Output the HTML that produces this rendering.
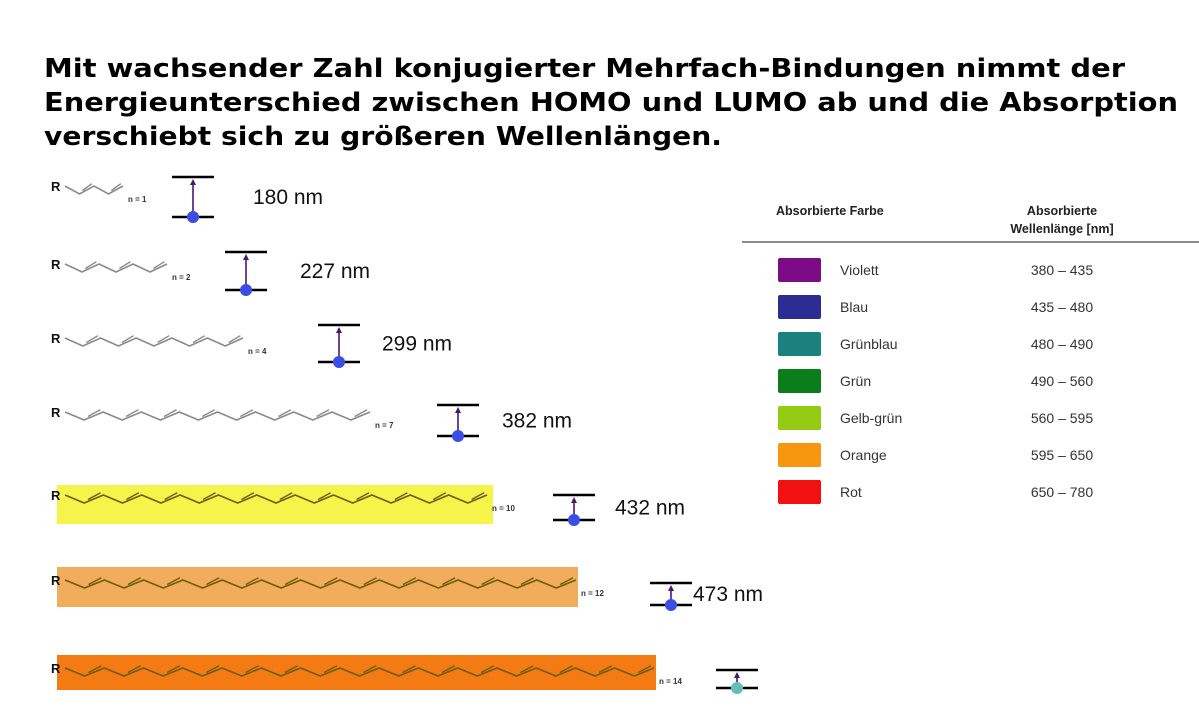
<!DOCTYPE html>
<html><head><meta charset="utf-8"><style>
html,body{margin:0;padding:0;background:#fff;}
svg{display:block;}
</style></head><body>
<svg id="fig" width="1199" height="707" viewBox="0 0 1199 707" xmlns="http://www.w3.org/2000/svg">
<g font-family="DejaVu Sans, Liberation Sans, sans-serif" font-weight="bold" font-size="26" fill="#000">
<text x="44" y="77" textLength="1081" lengthAdjust="spacingAndGlyphs">Mit wachsender Zahl konjugierter Mehrfach-Bindungen nimmt der</text>
<text x="44" y="111" textLength="1134" lengthAdjust="spacingAndGlyphs">Energieunterschied zwischen HOMO und LUMO ab und die Absorption</text>
<text x="44" y="145" textLength="678" lengthAdjust="spacingAndGlyphs">verschiebt sich zu größeren Wellenlängen.</text>
</g>
<g id="rows"></g>
<g id="table" font-family="Liberation Sans, sans-serif"></g>
</svg>
<script>
const nValues=[1,2,4,7,10,12,14];
const wavelengths=["180 nm","227 nm","299 nm","382 nm","432 nm","473 nm",""];
const highlightColors=["","","","","#f6f34a","#f2ad5c","#f47a14"];
const colorNames=["Violett","Blau","Grünblau","Grün","Gelb-grün","Orange","Rot"];
const colorRanges=["380 – 435","435 – 480","480 – 490","490 – 560","560 – 595","595 – 650","650 – 780"];
const swatchColors=["#7d0b86","#2c2c92","#1a8080","#0b7d1a","#94cc14","#f7960f","#f21010"];

const NS="http://www.w3.org/2000/svg";
function mk(tag,attrs,parent){const e=document.createElementNS(NS,tag);for(const k in attrs)e.setAttribute(k,attrs[k]);parent.appendChild(e);return e;}
const rowsG=document.getElementById('rows');
const rowY=[186,264,338,412,495,580,668];
const chainEnd=[123,167,243,370,487,576,654];
const iconX=[172,225,318,437,553,650,716];
const iconTop=[177,252,325,405,495,583,670];
const iconBot=[217,290,362,436,520,605,688];
const labelX=[253,300,382,502,615,693,0];
const bars=[null,null,null,null,[57,485,436,39],[57,567,521,40],[57,655,599,35]];
nValues.forEach((n,i)=>{
  const g=mk('g',{},rowsG);
  
  
  const y=rowY[i];
  if(highlightColors[i]){
    const b=bars[i];
    const r=mk('rect',{x:b[0],y:b[1],width:b[2],height:b[3],fill:highlightColors[i]},g);
    
    
  }
  const col=highlightColors[i]?'#6e5c10':'#8a8a8a';
  const R=mk('text',{x:51,y:y+5,'font-family':'Liberation Sans, sans-serif','font-weight':'bold','font-size':13,fill:'#111'},g);R.textContent='R';
  const segs=2*n+2, x0=65, dx=(chainEnd[i]-x0)/segs, amp=8;
  let pts=[];for(let s=0;s<=segs;s++){pts.push([x0+s*dx,y+(s%2?amp:0)]);}
  const chain=mk('polyline',{points:pts.map(p=>p.join(',')).join(' '),fill:'none',stroke:col,'stroke-width':1.6},g);
  
  
  for(let s=1;s<segs;s+=2){const a=pts[s],b=pts[s+1];
    mk('line',{x1:a[0]+dx*0.2,y1:a[1]-3.5,x2:b[0]-dx*0.15,y2:b[1]-3.5+amp*0.15,stroke:col,'stroke-width':1.4},g);}
  const nl=mk('text',{x:chainEnd[i]+5,y:y+16,'font-family':'Liberation Sans, sans-serif','font-weight':'bold','font-size':8,fill:'#333'},g);nl.textContent='n = '+n;
  const ix=iconX[i],t=iconTop[i],bt=iconBot[i],cx=ix+21;
  mk('line',{x1:ix,y1:t,x2:ix+42,y2:t,stroke:'#000','stroke-width':2.5},g);
  mk('line',{x1:ix,y1:bt,x2:ix+42,y2:bt,stroke:'#000','stroke-width':2.5},g);
  mk('line',{x1:cx,y1:bt,x2:cx,y2:t+6,stroke:'#4a1670','stroke-width':1.6},g);
  mk('path',{d:`M${cx-3},${t+8} L${cx},${t+2} L${cx+3},${t+8}Z`,fill:'#4a1670'},g);
  mk('circle',{cx:cx,cy:bt,r:6,fill:i==6?'#6bb':'#3a4ee6'},g);
  if(wavelengths[i]){const wl=mk('text',{x:labelX[i],y:(t+bt)/2+7,'font-family':'Liberation Sans, sans-serif','font-size':21,fill:'#111'},g);wl.textContent=wavelengths[i];
    
    }
});
const tg=document.getElementById('table');


let h=mk('text',{x:776,y:215,'font-weight':'bold','font-size':12.5,fill:'#222'},tg);h.textContent='Absorbierte Farbe';


let h2=mk('text',{x:1062,y:215,'font-weight':'bold','font-size':12.5,fill:'#222','text-anchor':'middle'},tg);h2.textContent='Absorbierte';
let h3=mk('text',{x:1062,y:233,'font-weight':'bold','font-size':12.5,fill:'#222','text-anchor':'middle'},tg);h3.textContent='Wellenlänge [nm]';


mk('line',{x1:742,y1:242,x2:1199,y2:242,stroke:'#666','stroke-width':1.5},tg);
colorNames.forEach((c,i)=>{
  const y=270+i*37;
  const r=mk('rect',{x:778,y:y-12,width:43,height:24,rx:2,fill:swatchColors[i]},tg);
  
  
  const t=mk('text',{x:840,y:y+5,'font-size':14,fill:'#333'},tg);t.textContent=c;
  const v=mk('text',{x:1062,y:y+5,'font-size':14,fill:'#333','text-anchor':'middle'},tg);v.textContent=colorRanges[i];
});
</script>
</body></html>
